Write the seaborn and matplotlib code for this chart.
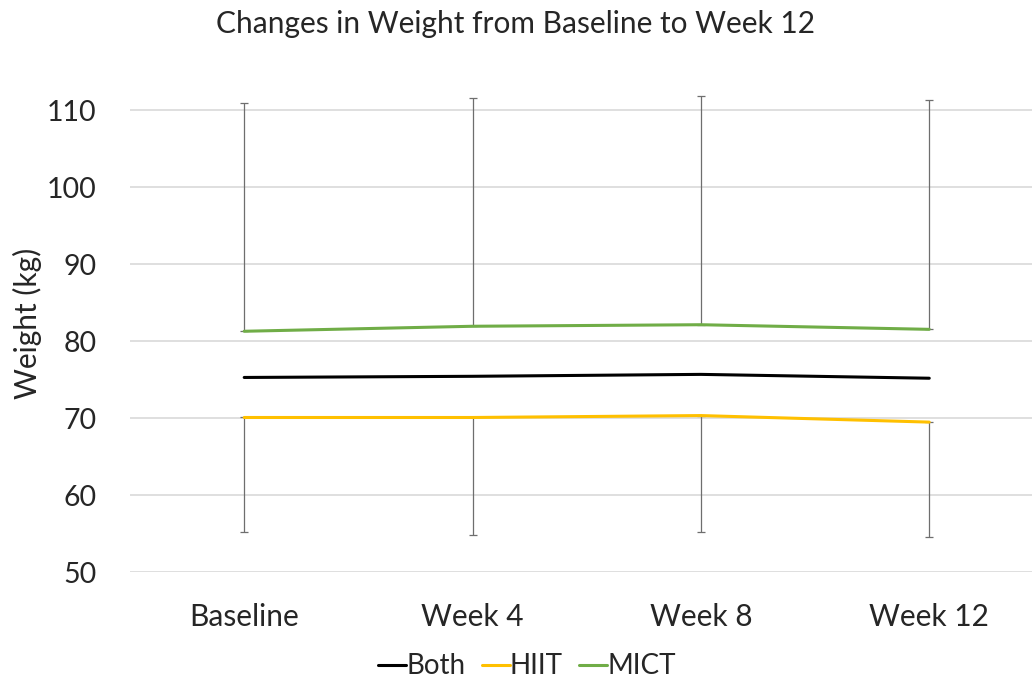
import pandas as pd
import seaborn as sns
import matplotlib.pyplot as plt

timepoints = ['Baseline', 'Week 4', 'Week 8', 'Week 12']
both = [75.3, 75.45, 75.7, 75.2]
hiit = [70.1, 70.1, 70.35, 69.5]
mict = [81.3, 81.95, 82.15, 81.55]
# error bars: MICT only upwards, HIIT only downwards
mict_err_up = [29.7, 29.65, 29.65, 29.75]
hiit_err_down = [14.9, 15.2, 15.15, 14.9]

colors = {'Both': '#000000', 'HIIT': '#FFC000', 'MICT': '#70AD47'}

data = pd.DataFrame({
	'Time': timepoints * 3,
	'Weight': both + hiit + mict,
	'Group': ['Both'] * 4 + ['HIIT'] * 4 + ['MICT'] * 4,
})

sns.set_style('white')
plt.rcParams['font.family'] = ['Lato', 'DejaVu Sans']

fig = plt.figure(figsize=(10.32, 6.78), dpi=100)
ax = fig.add_axes([0.126, 0.156, 0.874, 0.704])

sns.lineplot(data=data, x='Time', y='Weight', hue='Group', palette=colors,
	linewidth=2.2, sort=False, ax=ax, legend=True)

pos = range(len(timepoints))
ax.errorbar(pos, mict, yerr=[[0] * 4, mict_err_up], fmt='none', ecolor='#6e6e6e',
	elinewidth=0.9, capsize=3, capthick=0.9, zorder=1)
ax.errorbar(pos, hiit, yerr=[hiit_err_down, [0] * 4], fmt='none', ecolor='#6e6e6e',
	elinewidth=0.9, capsize=3, capthick=0.9, zorder=1)

ax.set_xlim(-0.5, 3.45)
ax.set_ylim(50, 112)
ax.set_yticks(range(50, 111, 10))
ax.yaxis.grid(True, color='#d9d9d9', linewidth=1.2)
ax.set_axisbelow(True)
for s in ax.spines.values():
	s.set_visible(False)
ax.tick_params(axis='x', length=0, labelsize=21.5, pad=22)
ax.tick_params(axis='y', length=0, labelsize=20.5, pad=24)
ax.set_xlabel('')
ax.set_ylabel('Weight (kg)', fontsize=21.5, labelpad=0)
ax.yaxis.set_label_coords(-0.098, 0.522)

fig.suptitle('Changes in Weight from Baseline to Week 12', fontsize=21.5, y=0.985)

handles, labels = ax.get_legend_handles_labels()
ax.legend(handles, labels, loc='center', bbox_to_anchor=(0.44, -0.197), ncol=3,
	frameon=False, fontsize=20, handlelength=1.0, handletextpad=0.0,
	columnspacing=0.6)

plt.savefig('out.png')
